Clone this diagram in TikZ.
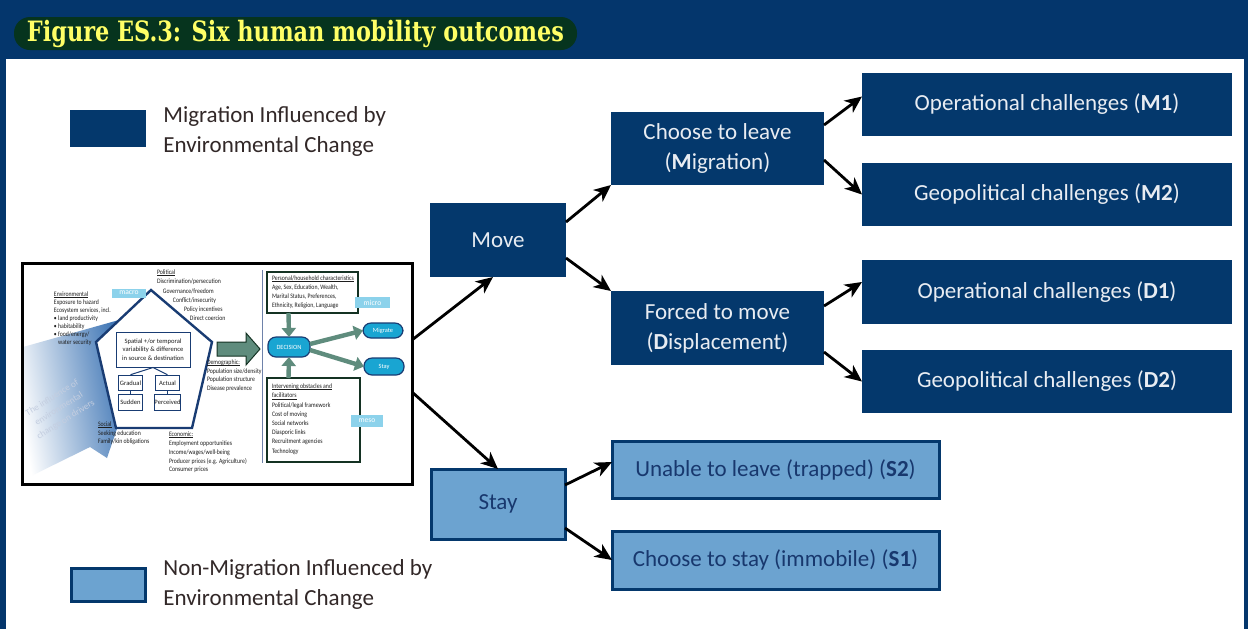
\documentclass[tikz,border=0pt]{standalone}
\usepackage{fontspec}
\setmainfont{Carlito}
\newfontfamily\titlefont{DejaVu Serif}
\usetikzlibrary{positioning,arrows.meta}

\newcommand{\uln}[1]{\setbox0\hbox{#1}\rlap{\rule[-0.45pt]{\wd0}{0.16pt}}\box0}

\begin{document}
\begin{tikzpicture}[x=0.5pt,y=-0.5pt,
  darkbox/.style={fill=boxDark,text=boxText,inner sep=0pt,outer sep=0pt,align=center,font=\fontsize{11.5}{15}\selectfont},
  lightbox/.style={fill=boxLight,draw=boxDark,line width=1.5pt,text=lightText,inner sep=0pt,outer sep=0pt,align=center,font=\fontsize{11.5}{15}\selectfont},
  flow/.style={draw=black,line width=1.4pt,-{Stealth[length=8.5pt,width=7.5pt,inset=2.5pt]}},
  tinytext/.style={inner sep=0pt,outer sep=0pt,anchor=north west,align=left,xscale=0.85,text=tinyText,font=\fontsize{3.4}{4.3}\selectfont},
  scalelabel/.style={fill=labelCyan,text=white,inner sep=0pt,outer sep=0pt,font=\fontsize{3.8}{4}\selectfont},
  pill/.style={fill=pillCyan,draw=pentBlue,line width=0.6pt,rounded corners=4pt,text=white,inner sep=0pt,outer sep=0pt,font=\fontsize{3.2}{4}\selectfont},
  framebox/.style={draw=frameGreen,line width=1.4pt,fill=white,inner sep=0pt,outer sep=0pt},
  subbox/.style={draw=pentBlue,line width=0.5pt,fill=white,inner sep=0pt,minimum width=12pt,minimum height=7.8pt,font=\fontsize{3.3}{4}\selectfont,text=tinyText},
  greenflow/.style={draw=arrowGreen,line width=2.2pt,-{Triangle[length=4.5pt,width=7pt]}}]
\definecolor{boxDark}{RGB}{4,56,108}
\definecolor{boxText}{RGB}{232,236,242}
\definecolor{boxLight}{RGB}{108,163,208}
\definecolor{lightText}{RGB}{24,56,110}
\definecolor{titleBand}{RGB}{4,54,108}
\definecolor{titleGreen}{RGB}{6,52,30}
\definecolor{titleYellow}{RGB}{255,255,102}
\definecolor{legendText}{RGB}{50,40,40}
\definecolor{shadeBlue}{RGB}{55,112,178}
\definecolor{pentBlue}{RGB}{25,60,115}
\definecolor{labelCyan}{RGB}{140,210,235}
\definecolor{pillCyan}{RGB}{25,165,210}
\definecolor{frameGreen}{RGB}{20,50,35}
\definecolor{arrowGreen}{RGB}{95,140,125}
\definecolor{tinyText}{RGB}{30,30,30}
\definecolor{dividerBlue}{RGB}{110,130,170}
\definecolor{influenceGray}{RGB}{196,206,224}

\path[use as bounding box,fill=titleBand] (0,0) rectangle (1248,629);
\path[fill=white] (6,59) rectangle (1244,629);

\node[fill=titleGreen,rounded corners=8pt,minimum width=281.5pt,minimum height=16.5pt,inner sep=0pt] (titlebar) at (295.5,33.5) {};
\node[text=titleYellow,inner sep=0pt,xscale=0.8,font=\titlefont\bfseries\fontsize{14}{16}\selectfont] (title) at (titlebar.center) {Figure ES.3: Six human mobility outcomes};

\path[fill=boxDark] (70,110) rectangle (146,147);
\node[anchor=west,align=left,inner sep=0pt,text=legendText,font=\fontsize{11.5}{15}\selectfont] (legendmove) at (163,131) {Migration Influenced by\\Environmental Change};
\path[fill=boxLight,draw=boxDark,line width=1.5pt] (71,568) rectangle (145,601);
\node[anchor=west,align=left,inner sep=0pt,text=legendText,font=\fontsize{11.5}{15}\selectfont] (legendstay) at (163,584.5) {Non-Migration Influenced by\\Environmental Change};

\shade[left color=white,right color=shadeBlue,shading angle=100] (23,347) -- (126,318) -- (120,420) -- (107,458) -- (90,447) -- (23,480) -- cycle;
\path[draw=pentBlue,line width=1.2pt,fill=white] (151,290) -- (212,342) -- (192,428) -- (116,428) -- (96,342) -- cycle;
\node[rotate=32,text=influenceGray,align=center,inner sep=0pt,font=\fontsize{4.6}{6.4}\selectfont] (influence) at (59,409) {The influence of\\environmental\\change on drivers};
\node[scalelabel,minimum width=17pt,minimum height=4.5pt] (macro) at (129,293) {macro};
\node[draw=pentBlue,line width=0.5pt,minimum width=37pt,minimum height=17.5pt,inner sep=0pt,align=center,text=tinyText,font=\fontsize{3.3}{4.3}\selectfont] (spatial) at (153,349.5) {Spatial +/or temporal\\variability \& difference\\in source \& destination};
\node[subbox] (gradual) at (130.5,383) {Gradual};
\node[subbox] (actual) at (167.5,383) {Actual};
\node[subbox] (sudden) at (130.5,402.5) {Sudden};
\node[subbox] (perceived) at (167.5,402.5) {Perceived};
\draw[pentBlue,line width=0.5pt] (gradual.north) -- (spatial.south) -- (actual.north);
\draw[pentBlue,line width=0.5pt] (gradual.south) -- (sudden.north);
\draw[pentBlue,line width=0.5pt] (actual.south) -- (perceived.north);

\path[fill=arrowGreen,draw=frameGreen,line width=0.5pt] (217,342) -- (246,342) -- (246,333) -- (260,349) -- (246,365) -- (246,356) -- (217,356) -- cycle;
\draw[dividerBlue,line width=0.6pt] (262.5,270) -- (262.5,463);

\node[tinytext,font=\fontsize{3.4}{4}\selectfont] (environ) at (54,292) {\uln{Environmental}\\Exposure to hazard\\Ecosystem services, incl.\\\textbullet\ land productivity\\\textbullet\ habitability\\\textbullet\ food/energy/\\\phantom{\textbullet\ }water security};
\node[tinytext,font=\fontsize{3.4}{4.6}\selectfont] (politic) at (157,270) {\uln{Political}\\Discrimination/persecution\\\hspace*{3.5pt}Governance/freedom\\\hspace*{9.4pt}Conflict/insecurity\\\hspace*{15.9pt}Policy incentives\\\hspace*{19.4pt}Direct coercion};
\node[tinytext] (demog) at (207,360) {\uln{Demographic:}\\Population size/density\\Population structure\\Disease prevalence};
\node[tinytext,font=\fontsize{3.4}{4.4}\selectfont] (econ) at (169,432) {\uln{Economic:}\\Employment opportunities\\Income/wages/well-being\\Producer prices (e.g. Agriculture)\\Consumer prices};
\node[tinytext] (social) at (98,422) {\uln{Social}\\Seeking education\\Family/kin obligations};

\node[framebox,minimum width=45.5pt,minimum height=20.5pt] (personal) at (312.5,292.5) {};
\node[tinytext,font=\fontsize{3.4}{4.5}\selectfont] (personaltxt) at (272,276) {\uln{Personal/household characteristics}\\Age, Sex, Education, Wealth,\\Marital Status, Preferences,\\Ethnicity, Religion, Language};
\node[scalelabel,minimum width=17.5pt,minimum height=5.5pt] (micro) at (372.5,302.5) {micro};
\node[framebox,minimum width=46.5pt,minimum height=42pt] (intervening) at (313.5,420) {};
\node[tinytext,font=\fontsize{3.4}{4.6}\selectfont] (interveningtxt) at (272,384) {\uln{Intervening obstacles and}\\\uln{facilitators}\\Political/legal framework\\Cost of moving\\Social networks\\Diasporic links\\Recruitment agencies\\Technology};
\node[scalelabel,minimum width=16pt,minimum height=6pt] (meso) at (367,421) {meso};
\node[pill,minimum width=21pt,minimum height=10pt] (decision) at (289,347) {DECISION};
\node[pill,minimum width=20pt,minimum height=7.5pt] (migrate) at (383,330.5) {Migrate};
\node[pill,minimum width=20pt,minimum height=8.5pt] (staysmall) at (384,366.5) {Stay};
\draw[greenflow] ([xshift=-12pt]personal.south) -- (decision.north);
\draw[greenflow] ([xshift=-12.5pt]intervening.north) -- (decision.south);
\draw[greenflow] ([yshift=1.5pt]decision.east) -- (migrate.west);
\draw[greenflow] ([yshift=-1.5pt]decision.east) -- (staysmall.west);

\node[draw=black,line width=1.5pt,minimum width=195pt,minimum height=110.5pt,inner sep=0pt,outer sep=0pt] (drivers) at (217,373.5) {};

\node[darkbox,minimum width=68pt,minimum height=37pt] (move) at (498,240) {Move};
\node[darkbox,minimum width=106.5pt,minimum height=36.5pt] (leave) at (717.5,148.5) {Choose to leave\\(\textbf{M}igration)};
\node[darkbox,minimum width=106.5pt,minimum height=37pt] (forced) at (717.5,328) {Forced to move\\(\textbf{D}isplacement)};
\node[darkbox,minimum width=185pt,minimum height=31.5pt] (mone) at (1047,104.5) {Operational challenges (\textbf{M1})};
\node[darkbox,minimum width=185pt,minimum height=31.5pt] (mtwo) at (1047,194.5) {Geopolitical challenges (\textbf{M2})};
\node[darkbox,minimum width=185pt,minimum height=32pt] (done) at (1047,292) {Operational challenges (\textbf{D1})};
\node[darkbox,minimum width=185pt,minimum height=31.5pt] (dtwo) at (1047,381.5) {Geopolitical challenges (\textbf{D2})};
\node[lightbox,minimum width=67pt,minimum height=35pt] (stay) at (498,504) {Stay};
\node[lightbox,minimum width=163.5pt,minimum height=28.5pt] (trapped) at (775.5,469.5) {Unable to leave (trapped) (\textbf{S2})};
\node[lightbox,minimum width=163.5pt,minimum height=29pt] (immobile) at (775.5,560) {Choose to stay (immobile) (\textbf{S1})};

\draw[flow] ([yshift=16.75pt]drivers.east) -- ([xshift=-2.5pt]move.south);
\draw[flow] ([yshift=-9.25pt]drivers.east) -- (stay.north);
\draw[flow] ([yshift=9pt]move.east) -- (leave.south west);
\draw[flow] ([yshift=-9pt]move.east) -- (forced.north west);
\draw[flow] ([yshift=11.75pt]leave.east) -- ([yshift=4pt]mone.west);
\draw[flow] ([yshift=-5.75pt]leave.east) -- (mtwo.west);
\draw[flow] ([yshift=11pt]forced.east) -- ([yshift=5pt]done.west);
\draw[flow] ([yshift=-12pt]forced.east) -- (dtwo.west);
\draw[flow] ([yshift=9.5pt]stay.east) -- ([yshift=3.75pt]trapped.west);
\draw[flow] ([yshift=-12pt]stay.east) -- (immobile.west);
\end{tikzpicture}
\end{document}
